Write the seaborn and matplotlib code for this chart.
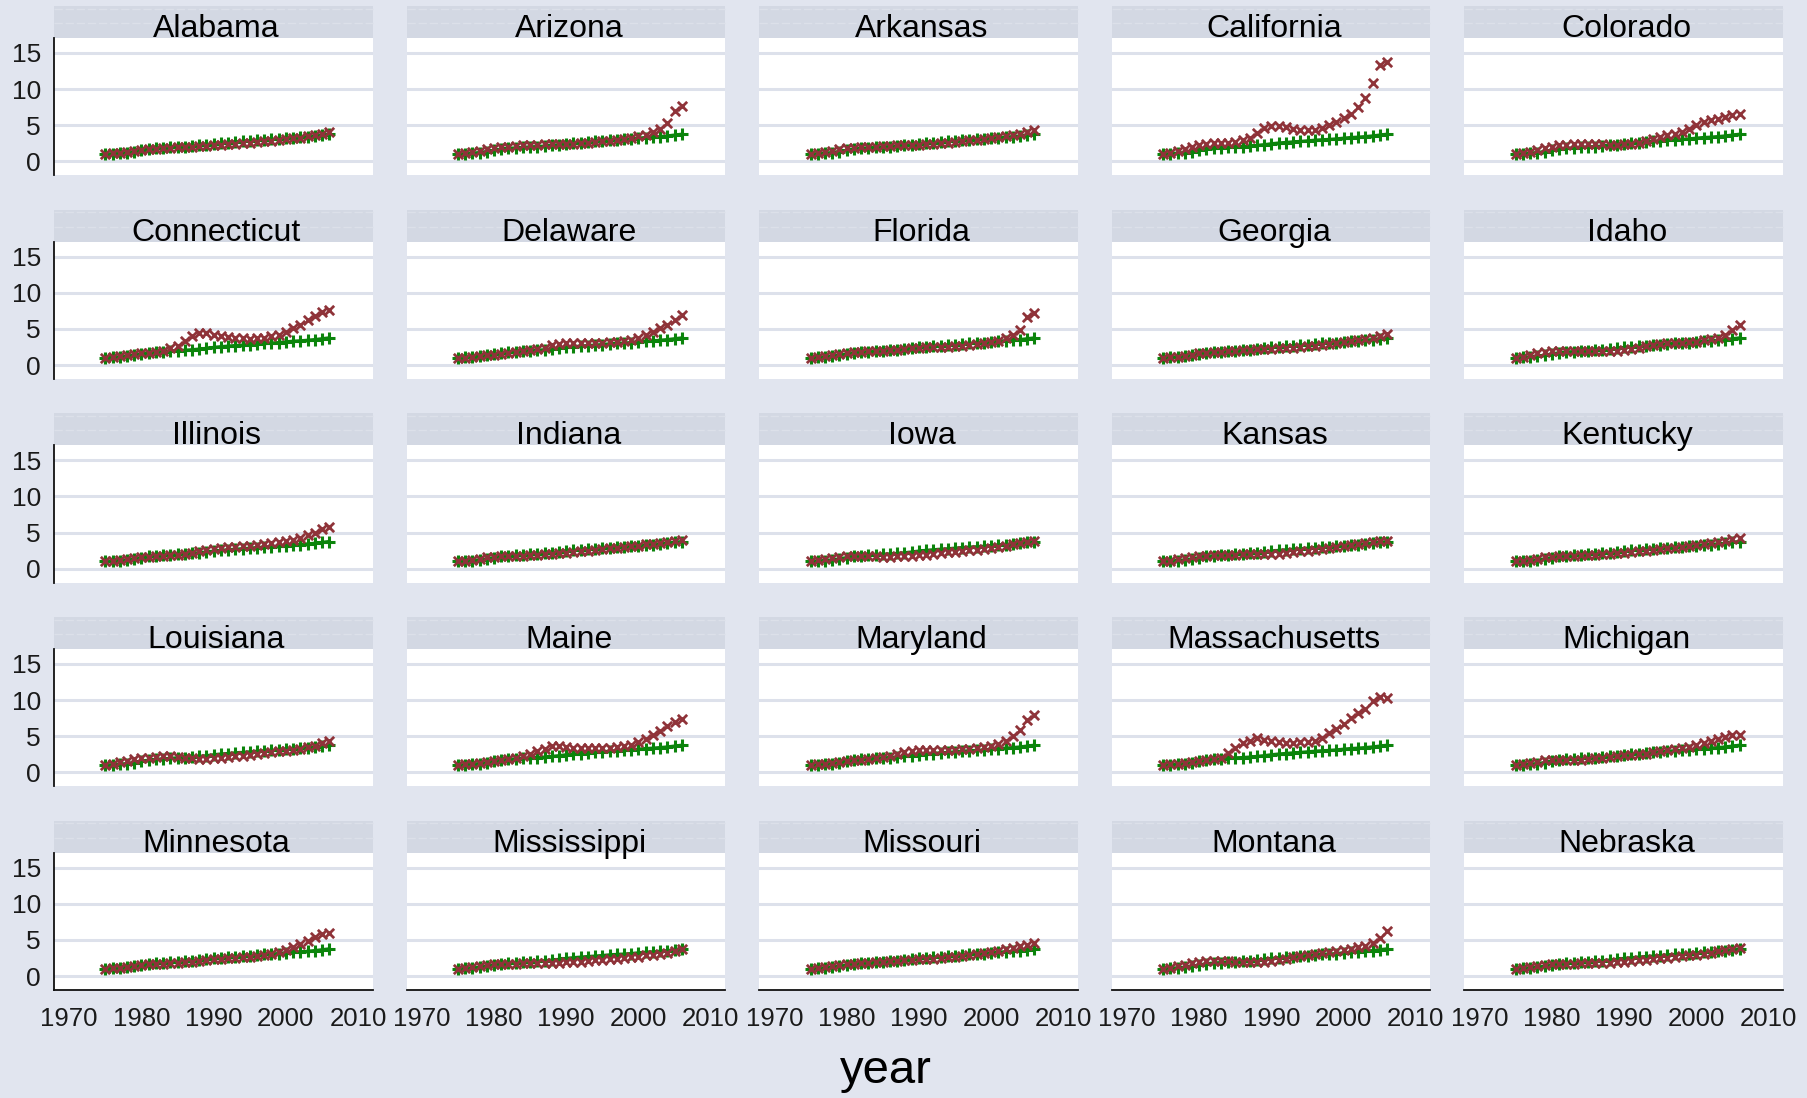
import matplotlib
matplotlib.use('Agg')
import pandas as pd
import matplotlib.pyplot as plt
import seaborn as sns
from matplotlib.patches import Rectangle

sns.set_style('white')
plt.rcParams['font.family'] = ['Liberation Sans', 'DejaVu Sans']

BG = '#e1e5ef'
STRIP = '#d3d8e3'
GRID = '#dde1eb'
GREEN = '#0b840b'
RED = '#8f3339'

years = list(range(1975, 2007))

# common deflator series (green +)
cpi = [1.0, 1.06, 1.13, 1.21, 1.35, 1.53, 1.69, 1.79, 1.85, 1.93, 2.0, 2.04,
       2.11, 2.2, 2.3, 2.43, 2.53, 2.61, 2.69, 2.75, 2.83, 2.92, 2.98, 3.03,
       3.1, 3.2, 3.29, 3.34, 3.42, 3.51, 3.63, 3.75]

# house price index by state (red x)
alabama = [1.0, 1.1, 1.2, 1.35, 1.5, 1.6, 1.7, 1.75, 1.8, 1.9, 1.95, 2.0, 2.05, 2.1, 2.15, 2.2,
           2.3, 2.35, 2.4, 2.5, 2.55, 2.65, 2.75, 2.85, 2.95, 3.05, 3.2, 3.3, 3.45, 3.6, 3.85, 4.1]
arizona = [1.0, 1.1, 1.3, 1.5, 1.75, 1.9, 2.0, 2.05, 2.1, 2.2, 2.25, 2.3, 2.35, 2.35, 2.4, 2.4,
           2.45, 2.5, 2.55, 2.65, 2.75, 2.85, 2.95, 3.1, 3.25, 3.45, 3.65, 4.0, 4.5, 5.3, 6.9, 7.6]
arkansas = [1.0, 1.12, 1.28, 1.45, 1.65, 1.8, 1.9, 1.95, 2.0, 2.05, 2.1, 2.15, 2.2, 2.2, 2.25, 2.3,
            2.35, 2.45, 2.5, 2.6, 2.7, 2.8, 2.9, 3.0, 3.1, 3.25, 3.4, 3.55, 3.7, 3.85, 4.05, 4.3]
california = [1.0, 1.2, 1.4, 1.65, 2.0, 2.3, 2.45, 2.5, 2.55, 2.6, 2.7, 2.9, 3.3, 3.9, 4.6, 4.95,
              4.95, 4.7, 4.45, 4.35, 4.35, 4.4, 4.6, 5.0, 5.4, 6.0, 6.6, 7.5, 8.7, 10.8, 13.3, 13.8]
colorado = [1.0, 1.15, 1.35, 1.6, 1.85, 2.05, 2.2, 2.3, 2.35, 2.4, 2.4, 2.4, 2.35, 2.3, 2.3, 2.35,
            2.45, 2.6, 2.85, 3.1, 3.35, 3.6, 3.85, 4.1, 4.5, 5.0, 5.4, 5.7, 5.9, 6.1, 6.4, 6.6]
connecticut = [1.0, 1.1, 1.2, 1.35, 1.5, 1.6, 1.7, 1.8, 2.0, 2.3, 2.7, 3.3, 4.0, 4.4, 4.4, 4.2,
               4.0, 3.85, 3.75, 3.7, 3.65, 3.7, 3.8, 3.95, 4.2, 4.6, 5.1, 5.6, 6.2, 6.8, 7.4, 7.6]
delaware = [1.0, 1.0, 1.1, 1.2, 1.35, 1.45, 1.55, 1.7, 1.8, 1.9, 2.05, 2.15, 2.4, 2.8, 2.95, 3.1,
            3.1, 3.1, 3.1, 3.1, 3.1, 3.2, 3.25, 3.35, 3.45, 3.8, 4.2, 4.5, 5.1, 5.5, 6.2, 6.9]
florida = [1.0, 1.1, 1.2, 1.35, 1.55, 1.7, 1.8, 1.85, 1.9, 1.95, 2.0, 2.05, 2.1, 2.2, 2.3, 2.4,
           2.45, 2.5, 2.5, 2.55, 2.6, 2.65, 2.75, 2.85, 3.0, 3.15, 3.35, 3.7, 4.1, 4.9, 6.7, 7.2]
georgia = [1.0, 1.08, 1.18, 1.3, 1.45, 1.6, 1.7, 1.75, 1.8, 1.9, 2.0, 2.05, 2.1, 2.15, 2.2, 2.25,
           2.3, 2.35, 2.4, 2.5, 2.6, 2.7, 2.8, 2.9, 3.0, 3.15, 3.3, 3.45, 3.6, 3.75, 4.0, 4.3]
idaho = [1.0, 1.15, 1.35, 1.6, 1.8, 1.95, 2.0, 2.0, 2.0, 1.95, 1.95, 1.9, 1.9, 1.9, 1.95, 2.05,
         2.2, 2.4, 2.6, 2.8, 2.9, 3.0, 3.05, 3.1, 3.15, 3.25, 3.4, 3.55, 3.75, 4.1, 4.8, 5.6]
illinois = [1.0, 1.1, 1.2, 1.35, 1.5, 1.6, 1.65, 1.7, 1.75, 1.85, 1.95, 2.05, 2.2, 2.4, 2.6, 2.75,
            2.85, 2.95, 3.05, 3.1, 3.2, 3.3, 3.4, 3.5, 3.65, 3.8, 4.0, 4.3, 4.6, 5.0, 5.5, 5.8]
indiana = [1.0, 1.1, 1.25, 1.4, 1.55, 1.65, 1.7, 1.7, 1.75, 1.8, 1.85, 1.9, 2.0, 2.05, 2.15, 2.2,
           2.3, 2.4, 2.5, 2.6, 2.7, 2.8, 2.9, 3.0, 3.1, 3.2, 3.35, 3.45, 3.55, 3.65, 3.8, 3.95]
iowa = [1.0, 1.15, 1.3, 1.5, 1.65, 1.75, 1.75, 1.7, 1.7, 1.7, 1.65, 1.65, 1.7, 1.75, 1.8, 1.85,
        1.95, 2.05, 2.15, 2.25, 2.35, 2.45, 2.55, 2.65, 2.75, 2.9, 3.05, 3.2, 3.35, 3.5, 3.7, 3.85]
kansas = [1.0, 1.12, 1.28, 1.45, 1.6, 1.72, 1.8, 1.85, 1.9, 1.95, 1.95, 2.0, 2.0, 2.0, 2.0, 2.05,
          2.1, 2.2, 2.3, 2.4, 2.5, 2.6, 2.7, 2.8, 2.95, 3.1, 3.25, 3.4, 3.55, 3.65, 3.8, 3.9]
kentucky = [1.0, 1.1, 1.25, 1.4, 1.55, 1.65, 1.7, 1.75, 1.8, 1.85, 1.9, 1.95, 2.0, 2.1, 2.15, 2.2,
            2.3, 2.4, 2.5, 2.6, 2.7, 2.8, 2.9, 3.0, 3.1, 3.25, 3.4, 3.55, 3.7, 3.85, 4.05, 4.3]
louisiana = [1.0, 1.2, 1.4, 1.6, 1.8, 1.95, 2.05, 2.15, 2.2, 2.2, 2.15, 2.05, 1.95, 1.9, 1.9, 1.95,
             2.0, 2.1, 2.2, 2.3, 2.45, 2.55, 2.65, 2.8, 2.9, 3.0, 3.15, 3.3, 3.5, 3.7, 4.0, 4.4]
maine = [1.0, 1.1, 1.2, 1.35, 1.5, 1.6, 1.7, 1.8, 2.0, 2.2, 2.5, 2.9, 3.3, 3.6, 3.7, 3.5,
         3.4, 3.35, 3.35, 3.35, 3.35, 3.4, 3.5, 3.65, 3.85, 4.15, 4.6, 5.1, 5.7, 6.4, 7.0, 7.4]
maryland = [1.0, 1.1, 1.2, 1.35, 1.5, 1.6, 1.7, 1.75, 1.85, 1.95, 2.1, 2.3, 2.55, 2.8, 3.0, 3.1,
            3.15, 3.15, 3.15, 3.15, 3.15, 3.2, 3.3, 3.4, 3.55, 3.7, 3.95, 4.4, 5.0, 5.9, 7.3, 8.0]
massachusetts = [1.0, 1.1, 1.2, 1.3, 1.45, 1.6, 1.7, 1.8, 2.0, 2.65, 3.35, 4.05, 4.4, 4.7, 4.5, 4.3,
                 4.15, 4.1, 4.1, 4.15, 4.2, 4.4, 4.8, 5.4, 6.0, 6.7, 7.5, 8.2, 8.8, 9.9, 10.4, 10.3]
michigan = [1.0, 1.1, 1.25, 1.45, 1.65, 1.75, 1.75, 1.7, 1.7, 1.75, 1.85, 1.95, 2.05, 2.15, 2.3, 2.4,
            2.45, 2.5, 2.6, 2.75, 2.9, 3.05, 3.2, 3.35, 3.55, 3.8, 4.05, 4.3, 4.6, 4.9, 5.1, 5.2]
minnesota = [1.0, 1.05, 1.15, 1.3, 1.45, 1.55, 1.6, 1.65, 1.7, 1.75, 1.8, 1.9, 2.0, 2.1, 2.2, 2.3,
             2.4, 2.45, 2.5, 2.6, 2.7, 2.8, 2.9, 3.05, 3.3, 3.65, 4.05, 4.45, 4.9, 5.35, 5.8, 6.0]
mississippi = [1.0, 1.1, 1.25, 1.4, 1.5, 1.6, 1.65, 1.7, 1.7, 1.75, 1.75, 1.8, 1.8, 1.85, 1.85, 1.9,
               1.95, 2.0, 2.05, 2.15, 2.2, 2.3, 2.4, 2.5, 2.6, 2.7, 2.85, 2.95, 3.1, 3.25, 3.45, 3.7]
missouri = [1.0, 1.1, 1.25, 1.4, 1.55, 1.65, 1.7, 1.75, 1.8, 1.9, 1.95, 2.05, 2.1, 2.2, 2.25, 2.3,
            2.35, 2.4, 2.5, 2.6, 2.7, 2.8, 2.9, 3.0, 3.15, 3.3, 3.5, 3.7, 3.9, 4.1, 4.35, 4.5]
montana = [1.0, 1.15, 1.35, 1.55, 1.8, 1.95, 2.05, 2.1, 2.1, 2.05, 2.0, 2.0, 1.95, 1.95, 2.0, 2.05,
           2.2, 2.4, 2.6, 2.8, 2.95, 3.1, 3.2, 3.3, 3.45, 3.6, 3.75, 3.95, 4.2, 4.6, 5.3, 6.2]
nebraska = [1.0, 1.1, 1.25, 1.4, 1.55, 1.65, 1.7, 1.7, 1.7, 1.75, 1.75, 1.75, 1.8, 1.85, 1.9, 1.95,
            2.05, 2.15, 2.25, 2.35, 2.45, 2.55, 2.65, 2.75, 2.85, 2.95, 3.1, 3.25, 3.4, 3.55, 3.75, 3.9]

states = ['Alabama', 'Arizona', 'Arkansas', 'California', 'Colorado',
          'Connecticut', 'Delaware', 'Florida', 'Georgia', 'Idaho',
          'Illinois', 'Indiana', 'Iowa', 'Kansas', 'Kentucky',
          'Louisiana', 'Maine', 'Maryland', 'Massachusetts', 'Michigan',
          'Minnesota', 'Mississippi', 'Missouri', 'Montana', 'Nebraska']
hpi = [alabama, arizona, arkansas, california, colorado,
       connecticut, delaware, florida, georgia, idaho,
       illinois, indiana, iowa, kansas, kentucky,
       louisiana, maine, maryland, massachusetts, michigan,
       minnesota, mississippi, missouri, montana, nebraska]

x_ticks = [1970, 1980, 1990, 2000, 2010]
y_ticks = [0, 5, 10, 15]

rows = []
for name, vals in zip(states, hpi):
    for yr, h, c in zip(years, vals, cpi):
        rows.append({'state': name, 'year': yr, 'hpi': h, 'cpi': c})
df = pd.DataFrame(rows)

g = sns.FacetGrid(df, col='state', col_wrap=5, col_order=states,
                  sharex=True, sharey=True, height=2, aspect=2.3, despine=False)
g.map(plt.plot, 'year', 'cpi', color=GREEN, marker='+',
      markersize=9, markeredgewidth=2.2, linewidth=2.4, zorder=2)
g.map_dataframe(sns.scatterplot, x='year', y='hpi', marker='x', color=RED,
                s=45, linewidth=2.0, zorder=3)
g.set_axis_labels('', '')

fig = g.figure
fig.set_size_inches(18.07, 10.98)
fig.patch.set_facecolor(BG)
fig.subplots_adjust(left=54 / 1807, right=1783 / 1807, top=1 - 38 / 1098,
                    bottom=1 - 990 / 1098, wspace=0.107, hspace=0.483)

strip_h = 32 / 137.5
for i, (ax, name) in enumerate(zip(g.axes.flat, states)):
    ax.set_title('')
    ax.set_xlabel('')
    ax.set_ylabel('')
    ax.set_facecolor('white')
    ax.set_xlim(1967.9, 2012)
    ax.set_ylim(-1.93, 17.06)
    ax.set_xticks(x_ticks)
    ax.set_yticks(y_ticks)
    ax.yaxis.grid(True, color=GRID, linewidth=2.2)
    ax.xaxis.grid(False)
    ax.set_axisbelow(True)
    for s in ax.spines.values():
        s.set_visible(False)
    first_col = i % 5 == 0
    last_row = i >= 20
    if first_col:
        ax.spines['left'].set_visible(True)
        ax.spines['left'].set_color('#111111')
        ax.spines['left'].set_linewidth(1.3)
    if last_row:
        ax.spines['bottom'].set_visible(True)
        ax.spines['bottom'].set_color('#111111')
        ax.spines['bottom'].set_linewidth(1.3)
    ax.tick_params(axis='y', length=6.5 if first_col else 0, width=1.3,
                   color='#444444', pad=3, labelsize=19, labelcolor='#1a1a1a')
    ax.tick_params(axis='x', length=5 if last_row else 0, width=1.3,
                   color='#444444', pad=7, labelsize=18.5, labelcolor='#1a1a1a')

    # grey strip header with the state name
    ax.add_patch(Rectangle((0, 1), 1, strip_h, transform=ax.transAxes,
                           facecolor=STRIP, edgecolor='none', clip_on=False, zorder=0))
    for yy in (1 + strip_h * 0.92, 1 + strip_h * 0.47):
        ax.plot([0, 1], [yy, yy], transform=ax.transAxes, clip_on=False,
                color='#dce0e9', lw=1.0, ls=(0, (6, 2)), zorder=0.5)
    ax.text(0.51, 1.008, name, transform=ax.transAxes, ha='center', va='baseline',
            fontsize=23, color='black')

fig.text(0.49, 0.014, 'year', ha='center', va='baseline', fontsize=34, color='black')

fig.savefig('out.png', dpi=100, facecolor=BG)
